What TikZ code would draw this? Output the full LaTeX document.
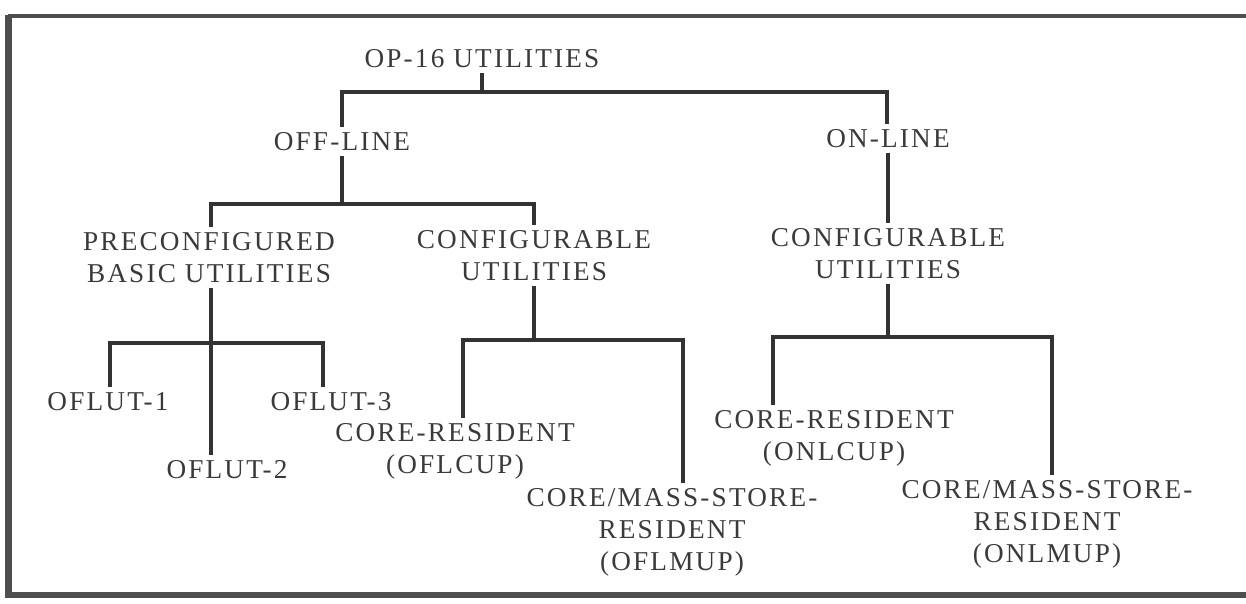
\documentclass[tikz,border=0pt]{standalone}
\usepackage{fontspec}
\usepackage{tikz}
\usetikzlibrary{calc}
\newfontfamily\docfont[LetterSpace=8]{Liberation Serif}
\definecolor{ink}{HTML}{3A3A3A}
\definecolor{rule}{HTML}{333333}
\definecolor{edge}{HTML}{4E4E4E}

\begin{document}
\begin{tikzpicture}[
 x=0.02cm, y=-0.02cm,
 font=\docfont\fontsize{15.5}{18}\selectfont,
 lbl/.style={text=ink,anchor=base,align=center,inner sep=0.1cm},
 ln/.style={draw=rule,line width=1.8pt}
]
\useasboundingbox (0,0) rectangle (1246,603);
% frame
\draw[draw=edge,line width=1.8pt] (8,16) -- (1246,16);
\draw[draw=edge,line width=3.8pt] (8,595) -- (1246,595);
\draw[draw=edge,line width=3.8pt] (8.5,15) -- (8.5,598);

% labels (base = baseline of the last line)
\node[lbl] (top) at (482,67) {OP-16 UTILITIES};
\node[lbl] (off) at (342,150) {OFF-LINE};
\node[lbl] (on) at (888,147) {ON-LINE};
\node[lbl] (pre) at (209,282) {PRECONFIGURED\\BASIC UTILITIES};
\node[lbl] (cfl) at (534,280) {CONFIGURABLE\\UTILITIES};
\node[lbl] (cfr) at (888,278) {CONFIGURABLE\\UTILITIES};
\node[lbl] (o1) at (108,410) {OFLUT-1};
\node[lbl] (o3) at (331,410) {OFLUT-3};
\node[lbl] (o2) at (227,478) {OFLUT-2};
\node[lbl] (lcr) at (455,473) {CORE-RESIDENT\\(OFLCUP)};
\node[lbl] (lms) at (672,570) {CORE/MASS-STORE-\\RESIDENT\\(OFLMUP)};
\node[lbl] (ncr) at (834,460) {CORE-RESIDENT\\(ONLCUP)};
\node[lbl] (nms) at (1047,562) {CORE/MASS-STORE-\\RESIDENT\\(ONLMUP)};

% tree bars
\coordinate (c0l) at (342,92); \coordinate (c0r) at (887,92);
\coordinate (c1l) at (211,204); \coordinate (c1r) at (534,204);
\coordinate (c2l) at (110,343); \coordinate (c2m) at (211,343); \coordinate (c2r) at (323,343);
\coordinate (c3l) at (463,340); \coordinate (c3r) at (683,340);
\coordinate (c4l) at (773,337); \coordinate (c4r) at (1052,337);

\draw[ln] (top.south) -- (top.south |- c0l);
\draw[ln] (c0l |- off.north) -- (c0l) -- (c0r) -- (c0r |- on.north);
\draw[ln] (off.south) -- (off.south |- c1l);
\draw[ln] (c1l |- pre.north) -- (c1l) -- (c1r) -- (c1r |- cfl.north);
\draw[ln] (c2m |- pre.south) -- (c2m |- o2.north);
\draw[ln] (c2l |- o1.north) -- (c2l) -- (c2r) -- (c2r |- o3.north);
\draw[ln] (cfl.south) -- (cfl.south |- c3l);
\draw[ln] (c3l |- lcr.north) -- (c3l) -- (c3r) -- (c3r |- lms.north);
\draw[ln] (on.south) -- (cfr.north);
\draw[ln] (cfr.south) -- (cfr.south |- c4l);
\draw[ln] (c4l |- ncr.north) -- (c4l) -- (c4r) -- (c4r |- nms.north);
\end{tikzpicture}
\end{document}
